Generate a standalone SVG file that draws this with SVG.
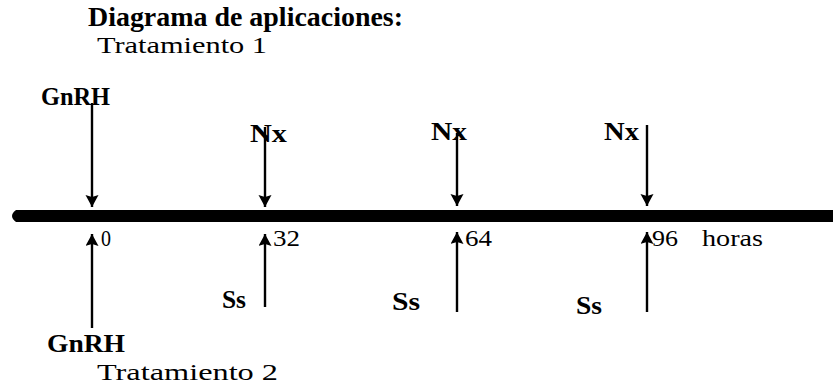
<svg xmlns="http://www.w3.org/2000/svg" width="833" height="386" viewBox="0 0 833 386">
<style>
text{font-family:"Liberation Serif","Times New Roman",serif;fill:#000}
.t{font-size:27px;font-weight:bold}
.r{font-size:23px}
.n{font-size:24px}
.b{font-size:25px;font-weight:bold}
.arr{stroke:#000;stroke-width:2.4;fill:none;marker-end:url(#ah)}
</style>
<defs>
<marker id="ah" markerUnits="userSpaceOnUse" markerWidth="14" markerHeight="14" refX="12" refY="6.5" orient="auto">
<path d="M0,0 L12,6.5 L0,13 L2,6.5 Z" fill="#000"/>
</marker>
</defs>
<rect width="833" height="386" fill="#fff"/>
<g id="title">
<text class="t" x="88" y="26" textLength="315" lengthAdjust="spacingAndGlyphs">Diagrama de aplicaciones:</text>
<text class="n" x="97" y="53" textLength="170" lengthAdjust="spacingAndGlyphs">Tratamiento 1</text>
</g>
<g id="timeline">
<path d="M16,210 L833,210 L833,222 L16,222 Q8,216 16,210 Z" fill="#000"/>
<text class="r" x="101" y="246" textLength="10" lengthAdjust="spacingAndGlyphs">0</text>
<text class="r" x="273" y="246" textLength="27" lengthAdjust="spacingAndGlyphs">32</text>
<text class="r" x="465" y="246" textLength="27" lengthAdjust="spacingAndGlyphs">64</text>
<text class="r" x="652" y="246" textLength="26" lengthAdjust="spacingAndGlyphs">96</text>
<text class="r" x="702" y="246" textLength="61" lengthAdjust="spacingAndGlyphs">horas</text>
</g>
<g id="t1-gnrh"><text class="b" x="41" y="105" textLength="69" lengthAdjust="spacingAndGlyphs">GnRH</text></g>
<g id="t1-nx32"><text class="b" x="250" y="142" textLength="37" lengthAdjust="spacingAndGlyphs">Nx</text></g>
<g id="t1-nx64"><text class="b" x="431" y="140" textLength="36" lengthAdjust="spacingAndGlyphs">Nx</text></g>
<g id="t1-nx96"><text class="b" x="604" y="140" textLength="35" lengthAdjust="spacingAndGlyphs">Nx</text></g>
<g id="t2-gnrh"><text class="b" x="47" y="352" textLength="78" lengthAdjust="spacingAndGlyphs">GnRH</text></g>
<g id="t2-ss32"><text class="b" x="222" y="308" textLength="24" lengthAdjust="spacingAndGlyphs">Ss</text></g>
<g id="t2-ss64"><text class="b" x="392" y="310" textLength="28" lengthAdjust="spacingAndGlyphs">Ss</text></g>
<g id="t2-ss96"><text class="b" x="576" y="314" textLength="26" lengthAdjust="spacingAndGlyphs">Ss</text></g>
<g id="label-t2"><text class="n" x="97" y="380" textLength="181" lengthAdjust="spacingAndGlyphs">Tratamiento 2</text></g>
<g id="connectors">
<line class="arr" x1="92" y1="103" x2="92" y2="207"/>
<line class="arr" x1="265" y1="127" x2="265" y2="207"/>
<line class="arr" x1="457" y1="133" x2="457" y2="206"/>
<line class="arr" x1="647" y1="125" x2="647" y2="206"/>
<line class="arr" x1="92" y1="328" x2="92" y2="234"/>
<line class="arr" x1="265" y1="307" x2="265" y2="234"/>
<line class="arr" x1="457" y1="312" x2="457" y2="232"/>
<line class="arr" x1="647" y1="312" x2="647" y2="232"/>
</g>
</svg>
